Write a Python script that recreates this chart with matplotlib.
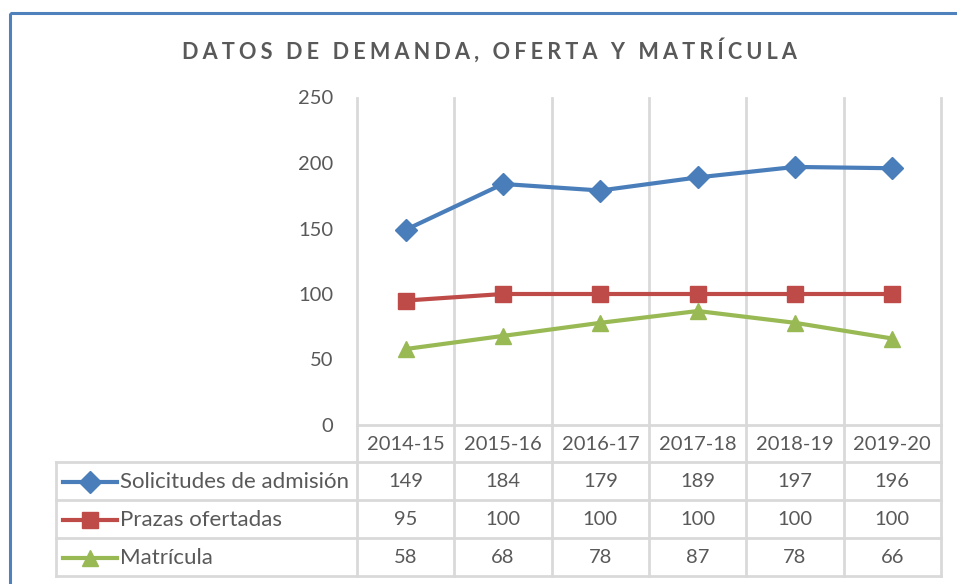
import matplotlib.pyplot as plt
import numpy as np
from matplotlib.patches import Rectangle
from matplotlib.transforms import blended_transform_factory

plt.rcParams['font.family'] = ['Lato', 'DejaVu Sans']

# data --------------------------------------------------------------
cursos = ["2014-15", "2015-16", "2016-17", "2017-18", "2018-19", "2019-20"]
solicitudes = [149, 184, 179, 189, 197, 196]
prazas = [95, 100, 100, 100, 100, 100]
matricula = [58, 68, 78, 87, 78, 66]

series = [
    ("Solicitudes de admisión", solicitudes, "#4A7EBB", "D", 11),
    ("Prazas ofertadas", prazas, "#BE4B48", "s", 11),
    ("Matrícula", matricula, "#98B954", "^", 12),
]
titulo = "DATOS DE DEMANDA, OFERTA Y MATRÍCULA"

TXT = "#595959"
GRID = "#D9D9D9"
W, H = 957, 584

fig = plt.figure(figsize=(W / 100, H / 100), dpi=100)

# overlay in pixel coordinates (table, border)
ov = fig.add_axes([0, 0, 1, 1])
ov.set_xlim(0, W)
ov.set_ylim(H, 0)
ov.axis("off")
ov.set_zorder(0)

# main chart area
x0, x1, ytop, ybot = 357, 941, 97.5, 425
ax = fig.add_axes([x0 / W, 1 - ybot / H, (x1 - x0) / W, (ybot - ytop) / H])
ax.set_zorder(1)
ax.patch.set_visible(False)
x = np.arange(len(cursos))
ax.set_xlim(-0.5, len(cursos) - 0.5)
ax.set_ylim(0, 250)
ax.set_yticks(range(0, 251, 50))
ax.set_xticks([])
ax.tick_params(axis="y", length=0, pad=17, labelsize=14.5, labelcolor=TXT)
for s in ["top", "left", "right"]:
    ax.spines[s].set_visible(False)
ax.spines["bottom"].set_color(GRID)
ax.spines["bottom"].set_linewidth(2)

for label, vals, col, mk, ms in series:
    ax.plot(x, vals, color=col, lw=3, marker=mk, markersize=ms,
            markeredgecolor=col, clip_on=False, solid_capstyle="round")

# table ------------------------------------------------------------
tr = blended_transform_factory(ax.transData, ov.transData)
rows = [461.5, 499.5, 537.7, 575.7]
leg_left = 56
for b in np.arange(-0.5, len(cursos)):
    ov.plot([b, b], [ytop, rows[-1]], color=GRID, lw=2, transform=tr, zorder=1)
for yy in rows:
    ov.plot([leg_left, x1], [yy, yy], color=GRID, lw=2, zorder=1)
ov.plot([leg_left, leg_left], [rows[0], rows[-1]], color=GRID, lw=2, zorder=1)

for i, c in enumerate(cursos):
    ov.text(i, (ybot + rows[0]) / 2 + 1, c, transform=tr, ha="center", va="center",
            fontsize=14.5, color=TXT)

for r, (label, vals, col, mk, ms) in enumerate(series):
    yc = (rows[r] + rows[r + 1]) / 2 + 1
    ov.plot([63, 117], [yc, yc], color=col, lw=3, zorder=3)
    ov.plot([90], [yc], marker=mk, color=col, markersize=ms, zorder=4)
    ov.text(120, yc, label, ha="left", va="center", fontsize=16, color=TXT)
    for i, v in enumerate(vals):
        ov.text(i, yc, str(v), transform=tr, ha="center", va="center",
                fontsize=14.5, color=TXT)

# title with letter spacing
ov.text(489, 50, "\u2009\u200a".join(titulo), ha="center", va="center",
        fontsize=15.6, fontweight="bold", color=TXT)

# chart border
ov.add_patch(Rectangle((10, 13), 1000, 700, fill=False, edgecolor="#4F81BD",
                       lw=2.2, clip_on=False))

fig.savefig("out.png", dpi=100)
